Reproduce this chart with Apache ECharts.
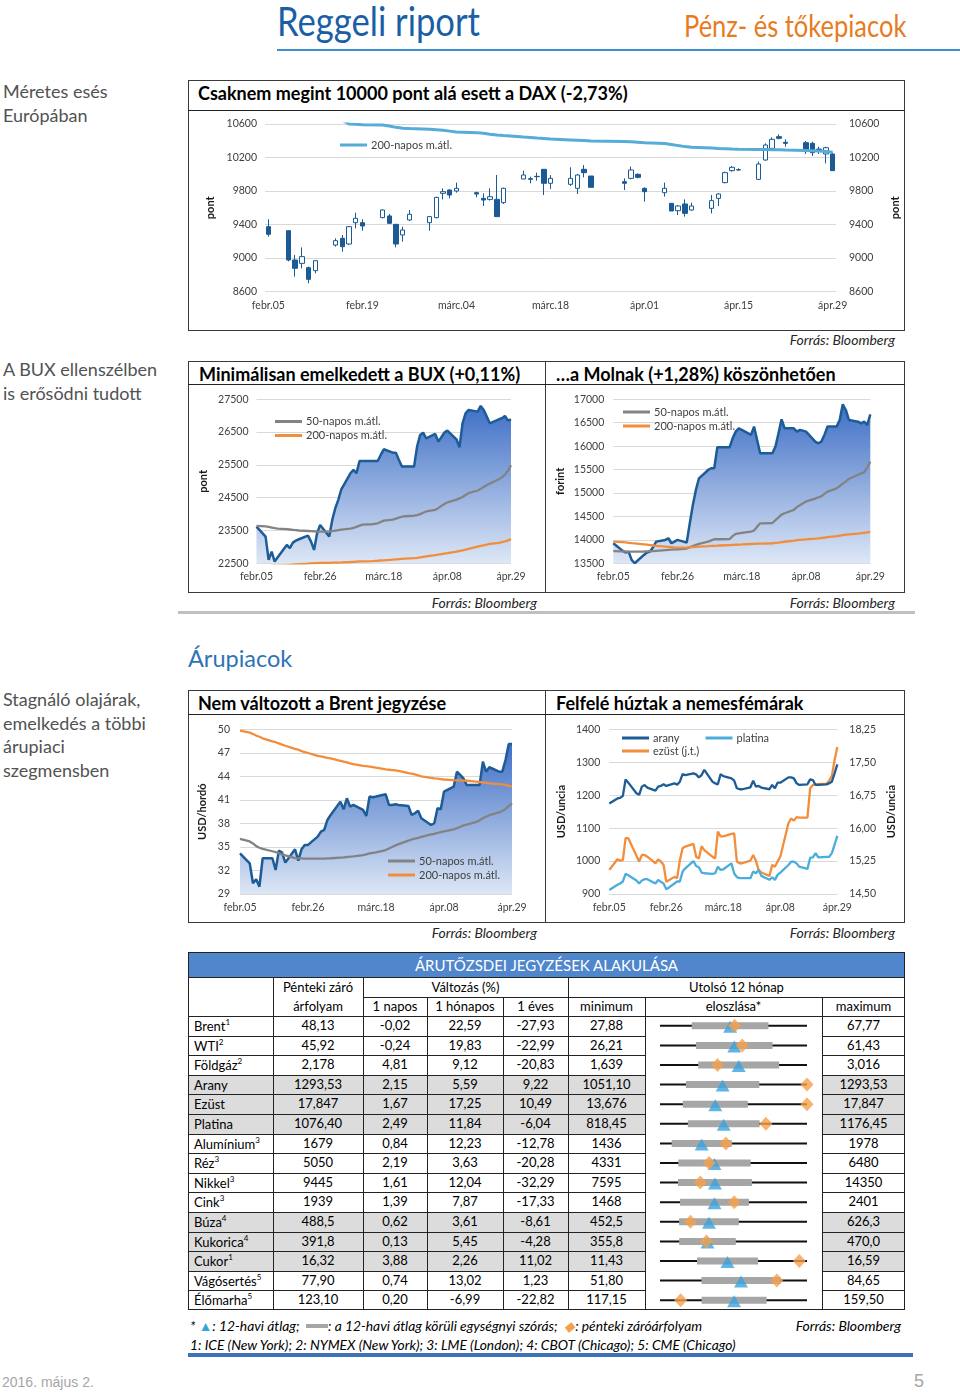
<!DOCTYPE html>
<html lang="hu">
<head>
<meta charset="utf-8">
<title>Reggeli riport</title>
<script src="https://cdn.jsdelivr.net/npm/echarts@6.0.0/dist/echarts.min.js"></script>
<style>
*{box-sizing:border-box;}
html,body{margin:0;padding:0;background:#fff;}
body{width:960px;height:1392px;position:relative;overflow:hidden;font-family:Lato,"Open Sans",sans-serif;color:#000;}
.a{position:absolute;white-space:nowrap;}
.side{position:absolute;left:3px;font-size:18px;line-height:23.5px;color:#525252;white-space:nowrap;}
.box{position:absolute;border:1px solid #3a3a3a;}
.ttl{position:absolute;font-weight:700;font-size:18px;line-height:20px;white-space:nowrap;}
.src{position:absolute;font-style:italic;font-size:14px;line-height:16px;color:#262626;white-space:nowrap;text-align:right;}
.hl{position:absolute;background:#222;height:1px;}
.vl{position:absolute;background:#222;width:1px;}
.cell{position:absolute;text-align:center;font-size:13px;white-space:nowrap;}
sup{font-size:8px;vertical-align:6px;line-height:0;}
</style>
</head>
<body>
<div class="a" style="left:277px;top:-2px;font-size:40px;line-height:46px;color:#1a5fa5;transform:scaleX(0.865);transform-origin:0 0;">Reggeli riport</div>
<div class="a" style="left:684px;top:7px;font-size:30px;line-height:36px;color:#e77c1f;transform:scaleX(0.85);transform-origin:0 0;">Pénz- és tőkepiacok</div>
<div class="a" style="left:277px;top:49px;width:683px;height:2px;background:#3c8fd4;"></div>

<div class="side" style="top:80px;">Méretes esés<br>Európában</div>
<div class="side" style="top:358px;">A BUX ellenszélben<br>is erősödni tudott</div>
<div class="side" style="top:688px;">Stagnáló olajárak,<br>emelkedés a többi<br>árupiaci<br>szegmensben</div>

<!-- DAX box -->
<div class="box" style="left:188px;top:80px;width:717px;height:251px;"></div>
<div class="hl" style="left:188px;top:110px;width:717px;"></div>
<div class="ttl" style="left:198px;top:83px;">Csaknem megint 10000 pont alá esett a DAX (-2,73%)</div>
<div class="src" style="right:65px;top:332px;">Forrás: Bloomberg</div>

<!-- BUX / Molnak boxes -->
<div class="box" style="left:188px;top:361px;width:358px;height:232px;"></div>
<div class="box" style="left:545px;top:361px;width:360px;height:232px;"></div>
<div class="hl" style="left:188px;top:384px;width:717px;"></div>
<div class="ttl" style="left:199px;top:364px;">Minimálisan emelkedett a BUX (+0,11%)</div>
<div class="ttl" style="left:556px;top:364px;">…a Molnak (+1,28%) köszönhetően</div>
<div class="src" style="right:423px;top:595px;">Forrás: Bloomberg</div>
<div class="src" style="right:65px;top:595px;">Forrás: Bloomberg</div>
<div class="a" style="left:178px;top:611px;width:737px;height:3px;background:#bfbfbf;"></div>

<div class="a" style="left:188px;top:643px;font-size:23.5px;line-height:30px;color:#2e74b5;">Árupiacok</div>

<!-- Brent / metals boxes -->
<div class="box" style="left:188px;top:690px;width:358px;height:233px;"></div>
<div class="box" style="left:545px;top:690px;width:360px;height:233px;"></div>
<div class="hl" style="left:188px;top:714px;width:717px;"></div>
<div class="ttl" style="left:198px;top:693px;">Nem változott a Brent jegyzése</div>
<div class="ttl" style="left:556px;top:693px;">Felfelé húztak a nemesfémárak</div>
<div class="src" style="right:423px;top:925px;">Forrás: Bloomberg</div>
<div class="src" style="right:65px;top:925px;">Forrás: Bloomberg</div>

<!-- table -->
<div id="tbl" class="a" style="left:188px;top:952px;width:717px;height:358px;"></div>

<div class="a" style="left:190px;top:1318px;font-style:italic;font-size:13.8px;line-height:16px;color:#000;">* <span style="color:#3aa3dd;">▲</span>: 12-havi átlag;&nbsp; <span style="display:inline-block;width:22px;height:4px;background:#a6a6a6;vertical-align:3px;"></span>: a 12-havi átlag körüli egységnyi szórás;&nbsp; <span style="color:#f5a04b;">◆</span>: pénteki záróárfolyam</div>
<div class="src" style="right:59px;top:1318px;color:#000;">Forrás: Bloomberg</div>
<div class="a" style="left:190px;top:1337px;font-style:italic;font-size:13.8px;line-height:16px;color:#000;">1: ICE (New York); 2: NYMEX (New York); 3: LME (London); 4: CBOT (Chicago); 5: CME (Chicago)</div>
<div class="a" style="left:188px;top:1353px;width:725px;height:4px;background:#3e72b8;"></div>

<div class="a" style="left:2px;top:1373px;font-family:'Liberation Sans',Arial,sans-serif;font-size:14px;line-height:18px;color:#a6a6a6;">2016. május 2.</div>
<div class="a" style="left:914px;top:1370px;font-family:'Liberation Sans',Arial,sans-serif;font-size:18px;line-height:22px;color:#a6a6a6;">5</div>

<div id="chart" style="position:absolute;left:0;top:0;width:960px;height:1392px;z-index:5;pointer-events:none;"></div>

<script>
// ---------------- DATA ----------------
const lineDates = [
"2016-02-05",
"2016-02-08","2016-02-09","2016-02-10","2016-02-11","2016-02-12",
"2016-02-15","2016-02-16","2016-02-17","2016-02-18","2016-02-19",
"2016-02-22","2016-02-23","2016-02-24","2016-02-25","2016-02-26",
"2016-02-29","2016-03-01","2016-03-02","2016-03-03","2016-03-04",
"2016-03-07","2016-03-08","2016-03-09","2016-03-10","2016-03-11",
"2016-03-14","2016-03-15","2016-03-16","2016-03-17","2016-03-18",
"2016-03-21","2016-03-22","2016-03-23","2016-03-24","2016-03-25",
"2016-03-28","2016-03-29","2016-03-30","2016-03-31","2016-04-01",
"2016-04-04","2016-04-05","2016-04-06","2016-04-07","2016-04-08",
"2016-04-11","2016-04-12","2016-04-13","2016-04-14","2016-04-15",
"2016-04-18","2016-04-19","2016-04-20","2016-04-21","2016-04-22",
"2016-04-25","2016-04-26","2016-04-27","2016-04-28","2016-04-29"];

const daxDates = [
"2016-02-05",
"2016-02-08","2016-02-09","2016-02-10","2016-02-11","2016-02-12",
"2016-02-15","2016-02-16","2016-02-17","2016-02-18","2016-02-19",
"2016-02-22","2016-02-23","2016-02-24","2016-02-25","2016-02-26",
"2016-02-29","2016-03-01","2016-03-02","2016-03-03","2016-03-04",
"2016-03-07","2016-03-08","2016-03-09","2016-03-10","2016-03-11",
"2016-03-14","2016-03-15","2016-03-16","2016-03-17","2016-03-18",
"2016-03-21","2016-03-22","2016-03-23","2016-03-24",
"2016-03-29","2016-03-30","2016-03-31","2016-04-01",
"2016-04-04","2016-04-05","2016-04-06","2016-04-07","2016-04-08",
"2016-04-11","2016-04-12","2016-04-13","2016-04-14","2016-04-15",
"2016-04-18","2016-04-19","2016-04-20","2016-04-21","2016-04-22",
"2016-04-25","2016-04-26","2016-04-27","2016-04-28","2016-04-29"];

const daxOpen  = [9374, 9326,8976,8936,8885,8849, 9155,9235,9167,9422,9422, 9482,9502,9402,9275,9454, 9422,9482,9772,9812,9800, 9780,9712,9700,9700,9661, 9943,9947,9975,10059,9892, 9880,9832,10059,9979, 9911,9951,9999,9832, 9780,9653,9565,9645,9573, 9593,9712,9900,10043,10055, 9939,10170,10309,10449,10381, 10377,10369,10301,10242,10242];
const daxClose = [9283, 8976,8877,9016,8745,8968, 9207,9135,9374,9474,9382, 9573,9414,9167,9334,9522, 9494,9724,9792,9752,9832, 9764,9692,9732,9494,9832, 9991,9939,9971,9892,9951, 9951,9991,10019,9844, 9892,10051,9963,9792, 9832,9561,9621,9533,9621, 9685,9764,10019,10083,10051, 10122,10349,10417,10429,10369, 10290,10258,10282,10317,10043];
const daxLow   = [9255, 8960,8777,8877,8698,8817, 9135,9076,9155,9354,9326, 9474,9406,9127,9195,9442, 9326,9474,9700,9712,9780, 9724,9621,9685,9494,9645, 9943,9892,9923,9752,9825, 9860,9764,9963,9844, 9812,9939,9951,9673, 9732,9561,9513,9494,9565, 9533,9621,9892,10031,10043, 9931,10162,10298,10417,10329, 10242,10218,10242,10130,10043];
const daxHigh  = [9462, 9330,9036,9127,8897,8976, 9235,9275,9382,9541,9462, 9581,9526,9406,9374,9573, 9502,9732,9832,9820,9900, 9792,9772,9832,9991,9840, 10043,9971,10019,10059,9990, 10083,10003,10110,9979, 9951,10091,10011,9844, 9900,9653,9633,9700,9661, 9752,9772,10031,10099,10071, 10150,10369,10441,10477,10417, 10397,10389,10329,10329,10258];
const dax200   = [10710, 10700,10695,10690,10684,10678, 10665,10645,10601,10596,10592, 10588,10576,10560,10550,10545, 10538,10532,10525,10515,10505, 10497,10490,10478,10468,10462, 10445,10440,10433,10427,10420, 10410,10406,10402,10398, 10392,10388,10382,10375, 10368,10355,10342,10330,10322, 10312,10308,10305,10301,10298, 10296,10295,10294,10292,10290, 10285,10282,10278,10272,10262];

const buxClose = [23619, 23314,22603,22857,22552,22684, 23060,22958,23131,23192,23233, 23345,23162,22908,23416,23670, 23314,23822,24178,24432,24757, 25245,25346,25245,25620,25620, 25620,25620,25620,25803,25976, 25874,25874,25651,25448,25448, 25448,26057,26413,26484,26311, 26443,26210,26342,26484,26545, 26281,26037,26768,27073,27175, 27124,27297,27175,26972,26768, 26890,26921,26992,26850,26890];
const bux50    = [23640, 23625,23610,23590,23570,23560, 23540,23530,23520,23510,23500, 23485,23480,23475,23470,23468, 23470,23480,23495,23510,23525, 23560,23580,23610,23650,23680, 23690,23700,23720,23760,23800, 23830,23860,23890,23920,23935, 23950,23970,24000,24040,24080, 24130,24180,24250,24310,24360, 24440,24480,24520,24580,24640, 24720,24770,24830,24880,24930, 25060,25120,25200,25320,25490];
const bux200   = [22400, 22410,22415,22420,22425,22430, 22445,22452,22460,22467,22474, 22490,22500,22503,22506,22510, 22516,22518,22520,22523,22527, 22540,22546,22552,22556,22560, 22568,22572,22578,22585,22592, 22612,22620,22628,22636,22642, 22655,22668,22682,22696,22710, 22750,22765,22780,22795,22810, 22857,22875,22895,22915,22940, 23010,23030,23050,23070,23090, 23120,23145,23170,23200,23235];

const molClose = [13928, 13771,13729,13750,13572,13501, 13679,13729,13750,13842,13963, 13999,14034,13928,13963,13999, 13942,14354,14745,15066,15314, 15492,15528,15528,15976,15976, 15976,16168,16310,16381,16346, 16239,16417,16132,15848,15848, 15848,15990,16275,16573,16381, 16381,16310,16346,16331,16310, 16097,16061,16097,16239,16417, 16417,16559,16893,16772,16559, 16523,16488,16523,16452,16680];
const mol50    = [13760, 13755,13752,13750,13750,13750, 13752,13755,13758,13760,13765, 13780,13785,13790,13795,13800, 13815,13845,13870,13895,13915, 13960,13990,14013,14013,14013, 14015,14080,14127,14140,14150, 14177,14200,14280,14354,14354, 14360,14420,14480,14540,14568, 14640,14700,14740,14780,14820, 14880,14910,14930,14980,15030, 15100,15150,15200,15250,15300, 15390,15420,15440,15550,15670];
const mol200   = [13963, 13950,13945,13938,13930,13925, 13905,13898,13890,13880,13870, 13855,13850,13845,13840,13836, 13838,13840,13845,13850,13855, 13865,13870,13873,13876,13880, 13890,13893,13896,13899,13902, 13912,13915,13918,13920,13922, 13928,13935,13942,13950,13960, 13985,13995,14000,14005,14010, 14025,14032,14040,14050,14060, 14080,14090,14100,14110,14118, 14135,14145,14152,14160,14169];

const brentClose = [34.19, 32.92,30.37,30.88,29.94,33.56, 33.56,32.07,34.53,34.28,33.00, 34.70,33.26,34.70,35.26,35.26, 36.32,36.96,37.17,38.44,39.08, 40.78,39.80,41.20,40.14,40.35, 39.72,38.95,41.42,41.33,41.42, 41.71,40.35,40.35,40.44,40.35, 40.23,39.08,39.29,39.63,38.65, 37.80,38.02,39.93,39.80,42.05, 42.69,44.60,44.18,43.75,42.90, 42.90,42.90,45.88,44.60,45.16, 44.60,44.60,46.09,48.14,48.13];
const brent50  = [36.02, 35.70,35.45,35.10,34.90,34.75, 34.45,34.35,34.20,34.05,33.92, 33.58,33.55,33.53,33.51,33.50, 33.50,33.51,33.52,33.54,33.56, 33.65,33.68,33.72,33.76,33.80, 33.95,34.05,34.17,34.25,34.32, 34.60,34.80,35.00,35.20,35.35, 35.80,35.95,36.05,36.15,36.28, 36.60,36.68,36.78,36.90,37.00, 37.25,37.40,37.55,37.75,37.85, 38.20,38.40,38.65,38.85,39.05, 39.40,39.60,39.85,40.20,40.57];
const brent200 = [49.83, 49.58,49.40,49.20,49.05,48.85, 48.45,48.35,48.20,48.05,47.90, 47.50,47.40,47.22,47.10,46.98, 46.62,46.55,46.45,46.35,46.28, 45.98,45.88,45.78,45.66,45.55, 45.35,45.30,45.25,45.18,45.10, 44.88,44.84,44.80,44.75,44.70, 44.42,44.35,44.25,44.12,44.00, 43.80,43.74,43.70,43.65,43.60, 43.52,43.50,43.48,43.46,43.44, 43.33,43.28,43.22,43.16,43.10, 43.00,42.97,42.90,42.80,42.69];

const gold     = [1175, 1190,1192,1198,1248,1238, 1206,1201,1226,1231,1223, 1214,1226,1228,1233,1228, 1236,1232,1241,1264,1261, 1266,1263,1254,1261,1277, 1241,1236,1233,1264,1258, 1251,1244,1221,1218,1218, 1224,1244,1226,1228,1223, 1218,1231,1221,1238,1238, 1254,1254,1251,1236,1231, 1233,1248,1246,1231,1231, 1233,1236,1241,1266,1293.53];
const platinum = [912, 928,932,938,961,957, 941,932,941,945,945, 932,943,937,932,914, 932,938,938,968,978, 1000,985,981,965,963, 961,963,983,973,975, 993,963,951,948,948, 948,968,963,973,955, 943,951,943,958,965, 988,998,998,993,983, 976,1010,1011,1024,1011, 1013,1013,1024,1050,1076.40];
const silver   = [15.05, 15.29,15.26,15.27,15.77,15.77, 15.37,15.24,15.39,15.39,15.35, 15.20,15.29,15.24,15.16,14.78, 14.89,14.86,15.27,15.54,15.58, 15.64,15.35,15.31,15.59,15.50, 15.35,15.31,15.92,15.81,15.81, 15.87,15.88,15.24,15.20,15.20, 15.26,15.39,15.26,15.05,14.99, 14.91,15.16,15.12,15.24,15.35, 16.11,16.22,16.17,16.25,16.24, 16.24,16.91,16.98,17.00,17.00, 17.01,17.08,17.19,17.55,17.847];

const monthAbbr = ["jan.","febr.","márc.","ápr.","máj.","jún.","júl.","aug.","szept.","okt.","nov.","dec."];

// table
const tblNames = ["Brent","WTI","Földgáz","Arany","Ezüst","Platina","Alumínium","Réz","Nikkel","Cink","Búza","Kukorica","Cukor","Vágósertés","Élőmarha"];
const tblSup   = ["1","2","2","","","","3","3","3","3","4","4","1","5","5"];
const tblClose = ["48,13","45,92","2,178","1293,53","17,847","1076,40","1679","5050","9445","1939","488,5","391,8","16,32","77,90","123,10"];
const tblChg1d = ["-0,02","-0,24","4,81","2,15","1,67","2,49","0,84","2,19","1,61","1,39","0,62","0,13","3,88","0,74","0,20"];
const tblChg1m = ["22,59","19,83","9,12","5,59","17,25","11,84","12,23","3,63","12,04","7,87","3,61","5,45","2,26","13,02","-6,99"];
const tblChg1y = ["-27,93","-22,99","-20,83","9,22","10,49","-6,04","-12,78","-20,28","-32,29","-17,33","-8,61","-4,28","11,02","1,23","-22,82"];
const tblMin   = ["27,88","26,21","1,639","1051,10","13,676","818,45","1436","4331","7595","1468","452,5","355,8","11,43","51,80","117,15"];
const tblMax   = ["67,77","61,43","3,016","1293,53","17,847","1176,45","1978","6480","14350","2401","626,3","470,0","16,59","84,65","159,50"];
const tblMean  = [46.9, 44.0, 2.376, 1154.4, 15.245, 973.6, 1589.6, 5127.6, 10121, 1813.9, 510.4, 392.7, 13.80, 69.9, 138.5];
const tblSd    = [10.4, 9.18, 0.379, 60.5, 0.922, 87.3, 110.6, 528.6, 1700, 219, 35.3, 22.0, 1.071, 8.83, 9.36];
const tblShaded = [false,false,false,true,true,true,false,false,false,false,true,true,true,false,false];

// ---------------- TABLE (HTML) ----------------
(function buildTable(){
  const T = document.getElementById('tbl');
  const colX = [0,85,175,239,315,380,457,634,717];
  const rowTop = 64, rowH = 19.6, W = 717, H = 358;
  let html = '';
  const add = (s)=>{ html += s; };
  tblNames.forEach((n,i)=>{
    if(!tblShaded[i]) return;
    const y = rowTop + i*rowH;
    add(`<div class="a" style="left:0;top:${y}px;width:457px;height:${rowH}px;background:#dcdcdc;"></div>`);
    add(`<div class="a" style="left:634px;top:${y}px;width:83px;height:${rowH}px;background:#dcdcdc;"></div>`);
  });
  add(`<div class="a" style="left:0;top:0;width:${W}px;height:25px;background:#4f86cc;"></div>`);
  add(`<div class="a" style="left:0;top:0;width:${W}px;height:25px;line-height:26px;text-align:center;color:#fff;font-size:15px;">ÁRUTŐZSDEI JEGYZÉSEK ALAKULÁSA</div>`);
  add(`<div class="a" style="left:0;top:0;width:${W}px;height:${H}px;border:1px solid #222;"></div>`);
  add(`<div class="hl" style="left:0;top:25px;width:${W}px;"></div>`);
  add(`<div class="hl" style="left:175px;top:45px;width:${W-175}px;"></div>`);
  add(`<div class="hl" style="left:0;top:64px;width:${W}px;"></div>`);
  for(let k=1;k<15;k++){
    const y = Math.round(rowTop + k*rowH);
    add(`<div class="hl" style="left:0;top:${y}px;width:457px;"></div>`);
    add(`<div class="hl" style="left:634px;top:${y}px;width:83px;"></div>`);
  }
  [85,175,380].forEach(x=>add(`<div class="vl" style="left:${x}px;top:25px;height:${H-25}px;"></div>`));
  [239,315,457,634].forEach(x=>add(`<div class="vl" style="left:${x}px;top:45px;height:${H-45}px;"></div>`));
  const hc = (x0,x1,y,h,txt)=>add(`<div class="cell" style="left:${x0}px;top:${y}px;width:${x1-x0}px;height:${h}px;line-height:${h}px;">${txt}</div>`);
  hc(85,175,25,20,'Pénteki záró');
  hc(85,175,45,19,'árfolyam');
  hc(175,380,25,20,'Változás (%)');
  hc(380,717,25,20,'Utolsó 12 hónap');
  hc(175,239,45,19,'1 napos');
  hc(239,315,45,19,'1 hónapos');
  hc(315,380,45,19,'1 éves');
  hc(380,457,45,19,'minimum');
  hc(457,634,45,19,'eloszlása*');
  hc(634,717,45,19,'maximum');
  tblNames.forEach((n,i)=>{
    const y = rowTop + i*rowH;
    add(`<div class="cell" style="left:6px;top:${y}px;height:${rowH}px;line-height:${rowH+1}px;text-align:left;">${n}${tblSup[i]?'<sup>'+tblSup[i]+'</sup>':''}</div>`);
    const vals = [tblClose[i],tblChg1d[i],tblChg1m[i],tblChg1y[i],tblMin[i]];
    vals.forEach((v,j)=>hc(colX[j+1],colX[j+2],y,rowH,v));
    hc(634,717,y,rowH,tblMax[i]);
  });
  T.innerHTML = html;
})();

// ---------------- CHARTS ----------------
const FONT = 'Lato';
const DAY = 86400000;
function parseDay(s){ return Date.UTC(+s.slice(0,4), +s.slice(5,7)-1, +s.slice(8,10)); }
function fmtDay(ms){ const d = new Date(ms); return monthAbbr[d.getUTCMonth()] + String(d.getUTCDate()).padStart(2,'0'); }
const t0 = parseDay(lineDates[0]);
const dayIdx = s => Math.round((parseDay(s)-t0)/DAY);
const lastDay = dayIdx(lineDates[lineDates.length-1]);
const pairs = arr => lineDates.map((d,i)=>[dayIdx(d), arr[i]]);

const daxStart = parseDay(daxDates[0]), daxEnd = parseDay(daxDates[daxDates.length-1]);
const daxCats = [];
for(let t=daxStart;t<=daxEnd;t+=DAY) daxCats.push(t);
const daxIndex = {};
daxDates.forEach((d,i)=>{ daxIndex[parseDay(d)] = i; });
const daxCandles = daxCats.map(t=>{ const i = daxIndex[t]; return i===undefined ? ['-','-','-','-'] : [daxOpen[i], daxClose[i], daxLow[i], daxHigh[i]]; });
const daxMA = daxCats.map(t=>{ const i = daxIndex[t]; return i===undefined ? null : dax200[i]; });

const labelStyle = {color:'#404040', fontSize:10.5, fontFamily:FONT};
const nameStyle = {color:'#1a1a1a', fontSize:11, fontWeight:'bold', fontFamily:FONT};
const split = {show:true, lineStyle:{color:'#d9d9d9', width:1}};
const noLine = {show:false};

const grids = [
  {left:265, top:124, width:571, height:167.5},
  {left:256.5, top:399.3, width:254.5, height:164},
  {left:613.3, top:399.3, width:257, height:164},
  {left:240, top:729.3, width:272, height:164.7},
  {left:609.3, top:729.3, width:228, height:164.7},
  {left:660, top:1016, width:147, height:294}
];

const timeX = (gi)=>({type:'value', gridIndex:gi, min:0, max:lastDay, interval:21,
  axisLine:noLine, axisTick:noLine, splitLine:{show:false},
  axisLabel:Object.assign({margin:8, formatter:v=>fmtDay(t0+v*DAY)}, labelStyle)});

const xAxes = [
  {type:'category', gridIndex:0, data:daxCats, boundaryGap:true, axisLine:noLine, axisTick:noLine, splitLine:{show:false},
   axisLabel:Object.assign({interval:13, margin:9, formatter:v=>fmtDay(+v)}, labelStyle)},
  timeX(1), timeX(2), timeX(3), timeX(4),
  {type:'value', gridIndex:5, min:0, max:1, show:false}
];

const valY = (gi, min, max, interval, name, gap, pos, fmt, showSplit, margin)=>({
  type:'value', gridIndex:gi, min, max, interval, position:pos||'left',
  name, nameLocation:'middle', nameGap:gap, nameTextStyle:nameStyle,
  axisLine:noLine, axisTick:noLine, splitLine: showSplit===false?{show:false}:split,
  axisLabel:Object.assign({margin:margin||8, formatter:fmt||(v=>String(v))}, labelStyle)
});
const comma2 = v=>v.toFixed(2).replace('.',',');
const yAxes = [
  valY(0, 8600, 10600, 400, 'pont', 49, 'left', null, true, 8),
  valY(0, 8600, 10600, 400, 'pont', 50, 'right', null, false, 13),
  valY(1, 22500, 27500, 1000, 'pont', 48, 'left', null, true, 8),
  valY(2, 13500, 17000, 500, 'forint', 47, 'left', null, true, 9),
  valY(3, 29, 50, 3, 'USD/hordó', 32, 'left', null, true, 10),
  valY(4, 900, 1400, 100, 'USD/uncia', 42, 'left', null, true, 9),
  valY(4, 14.5, 18.25, 0.75, 'USD/uncia', 49, 'right', comma2, false, 12),
  {type:'category', gridIndex:5, data:tblNames, inverse:true, show:false}
];

const C_MAIN = '#1d5c97', C_GRAY = '#838383', C_ORANGE = '#f28d3c', C_LIGHT = '#55acd9';
const areaGrad = new echarts.graphic.LinearGradient(0,0,0,1,[{offset:0,color:'#3f6fc6'},{offset:1,color:'#dde7f6'}]);
const lineS = (name, xi, yi, data, color, width, area)=>({
  type:'line', name, xAxisIndex:xi, yAxisIndex:yi, data, color, showSymbol:false, symbol:'none',
  lineStyle:{color, width:width||2.3}, clip:true, silent:true, animation:false,
  areaStyle: area ? {origin:'start', color:areaGrad, opacity:1} : undefined,
  connectNulls:true
});

const series = [
  {type:'candlestick', name:'DAX', xAxisIndex:0, yAxisIndex:0, data:daxCandles, barWidth:5, animation:false,
   itemStyle:{color:'#ffffff', color0:'#1c5a95', borderColor:'#1c5a95', borderColor0:'#1c5a95', borderWidth:1}},
  lineS('dax200', 0, 0, daxMA, C_LIGHT, 3),
  lineS('bux', 1, 2, pairs(buxClose), C_MAIN, 2.5, true),
  lineS('bux50', 1, 2, pairs(bux50), C_GRAY, 2.3),
  lineS('bux200', 1, 2, pairs(bux200), C_ORANGE, 2.3),
  lineS('mol', 2, 3, pairs(molClose), C_MAIN, 2.5, true),
  lineS('mol50', 2, 3, pairs(mol50), C_GRAY, 2.3),
  lineS('mol200', 2, 3, pairs(mol200), C_ORANGE, 2.3),
  lineS('brent', 3, 4, pairs(brentClose), C_MAIN, 2.5, true),
  lineS('brent50', 3, 4, pairs(brent50), C_GRAY, 2.3),
  lineS('brent200', 3, 4, pairs(brent200), C_ORANGE, 2.3),
  lineS('ezust', 4, 6, pairs(silver), C_ORANGE, 2.3),
  lineS('platina', 4, 5, pairs(platinum), '#4aaedd', 2.3),
  lineS('arany', 4, 5, pairs(gold), C_MAIN, 2.3)
];

const num = s => parseFloat(s.replace(',', '.'));
const rng = i => num(tblMax[i]) - num(tblMin[i]);
const norm = (i, v) => (v - num(tblMin[i])) / rng(i);
const rectItem = (h, fill)=>(params, api)=>{
  const a = api.coord([api.value(1), api.value(0)]);
  const b = api.coord([api.value(2), api.value(0)]);
  return {type:'rect', shape:{x:a[0], y:a[1]-h/2, width:b[0]-a[0], height:h}, style:{fill}};
};
series.push(
  {type:'custom', name:'range', xAxisIndex:5, yAxisIndex:7, renderItem:rectItem(2,'#111111'), encode:{x:[1,2], y:0},
   data: tblNames.map((n,i)=>[i, norm(i, num(tblMin[i])), norm(i, num(tblMax[i]))]), animation:false, silent:true},
  {type:'custom', name:'band', xAxisIndex:5, yAxisIndex:7, renderItem:rectItem(7,'#a6a6a6'), encode:{x:[1,2], y:0},
   data: tblNames.map((n,i)=>[i, norm(i, tblMean[i]-tblSd[i]), norm(i, tblMean[i]+tblSd[i])]), animation:false, silent:true},
  {type:'scatter', name:'mean', xAxisIndex:5, yAxisIndex:7, symbol:'triangle', symbolSize:[14,12], symbolOffset:[0,1],
   itemStyle:{color:'#3aa3dd'}, data: tblNames.map((n,i)=>[norm(i, tblMean[i]), i]), animation:false, silent:true},
  {type:'scatter', name:'close', xAxisIndex:5, yAxisIndex:7, symbol:'diamond', symbolSize:[13,14],
   itemStyle:{color:'#f5a04b'}, data: tblNames.map((n,i)=>[norm(i, num(tblClose[i])), i]), animation:false, silent:true}
);

const legendText = {
  dax200:'200-napos m.átl.', bux50:'50-napos m.átl.', bux200:'200-napos m.átl.',
  mol50:'50-napos m.átl.', mol200:'200-napos m.átl.', brent50:'50-napos m.átl.', brent200:'200-napos m.átl.',
  arany:'arany', platina:'platina', ezust:'ezüst (j.t.)'
};
const leg = (names, left, top, orient, gap)=>({
  data:names.map(n=>({name:n, icon:'rect'})), left, top, orient:orient||'vertical', itemGap:gap==null?3:gap,
  itemWidth:27, itemHeight:3, padding:0, selectedMode:false,
  textStyle:{color:'#404040', fontSize:11, fontFamily:FONT, padding:[0,0,0,-1]},
  formatter:n=>legendText[n]
});

const option = {
  animation:false,
  backgroundColor:'transparent',
  textStyle:{fontFamily:FONT},
  grid:grids,
  xAxis:xAxes,
  yAxis:yAxes,
  legend:[
    leg(['dax200'], 340, 139.5),
    leg(['bux50','bux200'], 275, 416),
    leg(['mol50','mol200'], 623, 406.5),
    leg(['brent50','brent200'], 388, 855.5),
    leg(['arany','platina'], 622, 732.5, 'horizontal', 26),
    leg(['ezust'], 622, 745.5)
  ],
  series
};
const chart = echarts.init(document.getElementById('chart'), null, {renderer:'canvas', width:960, height:1392});
chart.setOption(option);
</script>
</body>
</html>
